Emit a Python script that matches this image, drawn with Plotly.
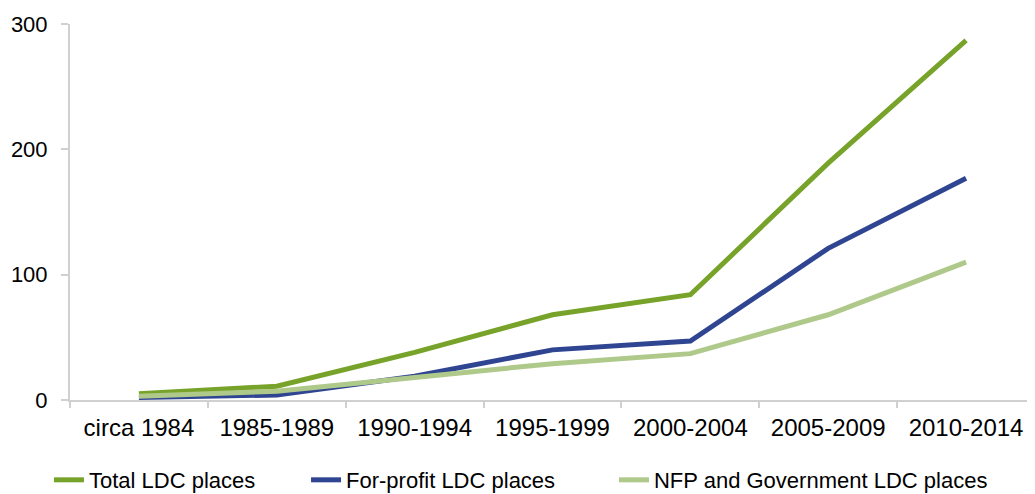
import plotly.graph_objects as go

categories = ["circa 1984", "1985-1989", "1990-1994", "1995-1999", "2000-2004", "2005-2009", "2010-2014"]
total_ldc = [5, 11, 38, 68, 84, 189, 287]
for_profit_ldc = [2, 4, 19, 40, 47, 121, 177]
nfp_gov_ldc = [3, 7, 18, 29, 37, 68, 110]
y_ticks = [0, 100, 200, 300]

series = [
    ("Total LDC places", total_ldc, "#78A32A", "legend"),
    ("For-profit LDC places", for_profit_ldc, "#2F4591", "legend2"),
    ("NFP and Government LDC places", nfp_gov_ldc, "#AFC98A", "legend3"),
]

fig = go.Figure()
for name, vals, color, lg in series:
    fig.add_trace(go.Scatter(
        x=categories, y=vals, name=name, mode="lines",
        line=dict(color=color, width=5), legend=lg,
    ))

legend_font = dict(family="Liberation Sans, Arial, sans-serif", size=22)

def legend_at(x):
    return dict(
        orientation="h", x=x, xanchor="left", y=-0.2128, yanchor="middle",
        font=legend_font, bgcolor="rgba(0,0,0,0)",
    )

# page body has an 8px margin; figure sized/offset to compensate
fig.update_layout(
    width=1027, height=486,
    margin=dict(l=62, r=0, t=16, b=94, autoexpand=False),
    paper_bgcolor="white", plot_bgcolor="white",
    font=dict(family="Liberation Sans, Arial, sans-serif", size=22, color="#000000"),
    showlegend=True,
    legend=legend_at(-0.0218),
    legend2=legend_at(0.2446),
    legend3=legend_at(0.5637),
)
fig.update_xaxes(
    type="category", range=[-0.5, 6.5], automargin=False,
    showline=True, linecolor="#D0D0D0", linewidth=2,
    showgrid=False, zeroline=False,
    ticks="outside", tickson="boundaries", ticklen=6, tickcolor="#D0D0D0", tickwidth=2,
    ticklabelstandoff=5,
    tickfont=dict(size=24),
)
fig.update_yaxes(
    range=[0, 300], tickvals=y_ticks, automargin=False,
    showline=True, linecolor="#D0D0D0", linewidth=2,
    showgrid=False, zeroline=False,
    ticks="outside", ticklen=7, tickcolor="#D0D0D0", tickwidth=2,
    ticklabelstandoff=9,
    tickfont=dict(size=22),
)

fig.write_html("out.html")
